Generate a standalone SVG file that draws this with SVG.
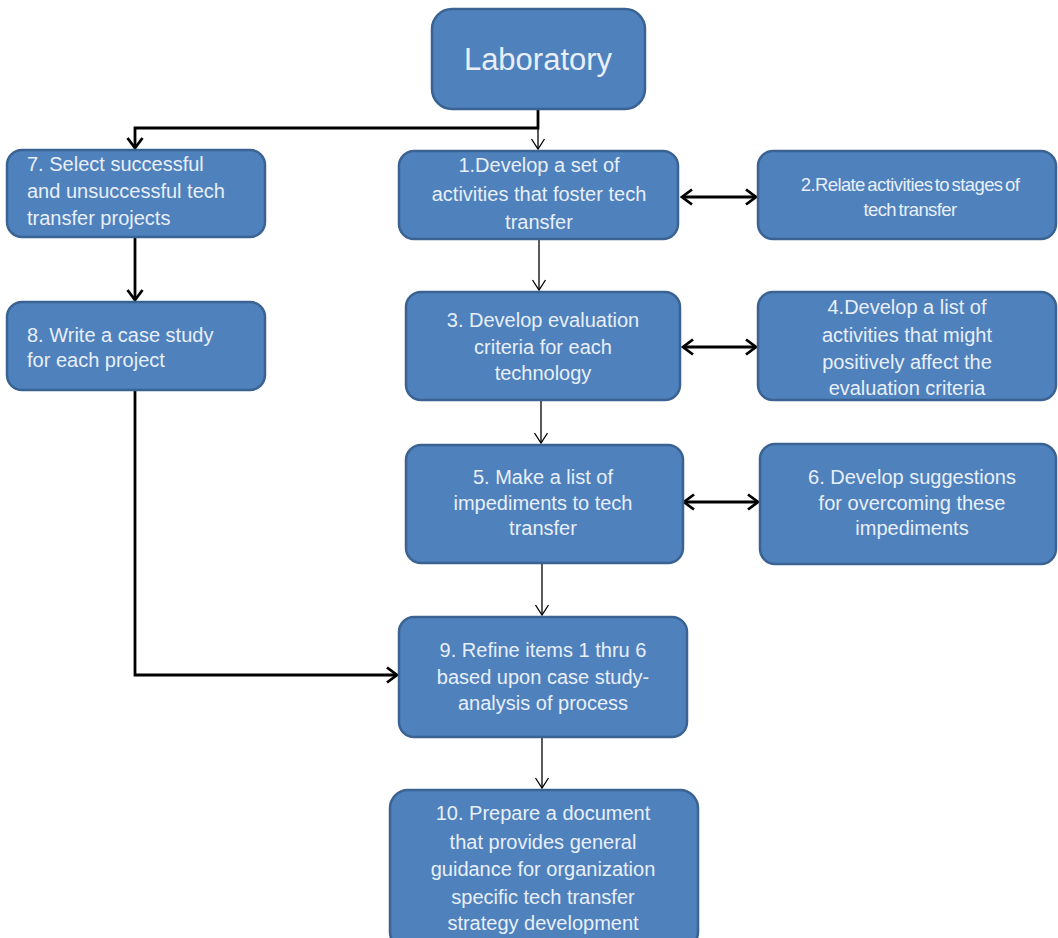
<svg xmlns="http://www.w3.org/2000/svg" width="1058" height="938" viewBox="0 0 1058 938">
<style>
.box{fill:#4f81bd;stroke:#3a6393;stroke-width:2.5}
.t{font-family:"Liberation Sans",Arial,sans-serif;font-size:20px;fill:#e8eff9}
.c{text-anchor:middle}
.tight{font-size:18.5px;letter-spacing:-0.6px;word-spacing:-2px}
.thin{fill:none;stroke:#000;stroke-width:1.3}
.thick{fill:none;stroke:#000;stroke-width:2.8}
</style>
<defs>
<marker id="vthin" markerUnits="userSpaceOnUse" viewBox="-12 -9 14 18" markerWidth="14" markerHeight="18" refX="0" refY="0" orient="auto">
<path d="M-10,-6.5 L0,0 L-10,6.5" fill="none" stroke="#000" stroke-width="1.3"/>
</marker>
<marker id="vthick" markerUnits="userSpaceOnUse" viewBox="-13 -10 15 20" markerWidth="15" markerHeight="20" refX="0" refY="0" orient="auto-start-reverse">
<path d="M-10,-7.5 L0,0 L-10,7.5" fill="none" stroke="#000" stroke-width="2.8"/>
</marker>
</defs>
<rect width="1058" height="938" fill="#ffffff"/>
<g id="connectors">
<path class="thick" d="M538,109 V128 H135 V148" marker-end="url(#vthick)"/>
<path class="thin" d="M538,128 V149" marker-end="url(#vthin)"/>
<path class="thick" d="M135,238 V300" marker-end="url(#vthick)"/>
<path class="thick" d="M682,197 H756" marker-start="url(#vthick)" marker-end="url(#vthick)"/>
<path class="thin" d="M539,240 V290" marker-end="url(#vthin)"/>
<path class="thick" d="M683,347 H756" marker-start="url(#vthick)" marker-end="url(#vthick)"/>
<path class="thin" d="M541,401 V443" marker-end="url(#vthin)"/>
<path class="thick" d="M684,502 H758" marker-start="url(#vthick)" marker-end="url(#vthick)"/>
<path class="thin" d="M542,564 V615" marker-end="url(#vthin)"/>
<path class="thick" d="M135,391 V675 H397" marker-end="url(#vthick)"/>
<path class="thin" d="M542,738 V788" marker-end="url(#vthin)"/>
</g>
<g id="lab">
<rect class="box" x="432" y="9" width="213" height="100" rx="20"/>
<text class="t c" x="538" y="70" style="font-size:31px">Laboratory</text>
</g>
<g id="n7">
<rect class="box" x="7" y="150" width="258" height="87" rx="15"/>
<text class="t" x="27" y="171">7. Select successful</text>
<text class="t" x="27" y="198">and unsuccessful tech</text>
<text class="t" x="27" y="225">transfer projects</text>
</g>
<g id="n8">
<rect class="box" x="7" y="302" width="258" height="88" rx="15"/>
<text class="t" x="27" y="342">8. Write a case study</text>
<text class="t" x="27" y="367">for each project</text>
</g>
<g id="n1">
<rect class="box" x="399" y="151" width="279" height="88" rx="15"/>
<text class="t c" x="539" y="172">1.Develop a set of</text>
<text class="t c" x="539" y="201">activities that foster tech</text>
<text class="t c" x="539" y="229">transfer</text>
</g>
<g id="n2">
<rect class="box" x="758" y="151" width="298" height="88" rx="15"/>
<text class="t c tight" x="910" y="191">2.Relate activities to stages of</text>
<text class="t c tight" x="910" y="216">tech transfer</text>
</g>
<g id="n3">
<rect class="box" x="406" y="292" width="274" height="108" rx="15"/>
<text class="t c" x="543" y="327">3. Develop evaluation</text>
<text class="t c" x="543" y="354">criteria for each</text>
<text class="t c" x="543" y="380">technology</text>
</g>
<g id="n4">
<rect class="box" x="758" y="292" width="298" height="108" rx="15"/>
<text class="t c" x="907" y="314">4.Develop a list of</text>
<text class="t c" x="907" y="342">activities that might</text>
<text class="t c" x="907" y="369">positively affect the</text>
<text class="t c" x="907" y="395">evaluation criteria</text>
</g>
<g id="n5">
<rect class="box" x="406" y="445" width="277" height="118" rx="15"/>
<text class="t c" x="543" y="484">5. Make a list of</text>
<text class="t c" x="543" y="510">impediments to tech</text>
<text class="t c" x="543" y="535">transfer</text>
</g>
<g id="n6">
<rect class="box" x="760" y="444" width="296" height="120" rx="15"/>
<text class="t c" x="912" y="484">6. Develop suggestions</text>
<text class="t c" x="912" y="510">for overcoming these</text>
<text class="t c" x="912" y="535">impediments</text>
</g>
<g id="n9">
<rect class="box" x="399" y="617" width="288" height="120" rx="15"/>
<text class="t c" x="543" y="657">9. Refine items 1 thru 6</text>
<text class="t c" x="543" y="684">based upon case study-</text>
<text class="t c" x="543" y="710">analysis of process</text>
</g>
<g id="n10">
<rect class="box" x="390" y="790" width="308" height="160" rx="18"/>
<text class="t c" x="543" y="820">10. Prepare a document</text>
<text class="t c" x="543" y="849">that provides general</text>
<text class="t c" x="543" y="876">guidance for organization</text>
<text class="t c" x="543" y="904">specific tech transfer</text>
<text class="t c" x="543" y="930">strategy development</text>
</g>
</svg>
